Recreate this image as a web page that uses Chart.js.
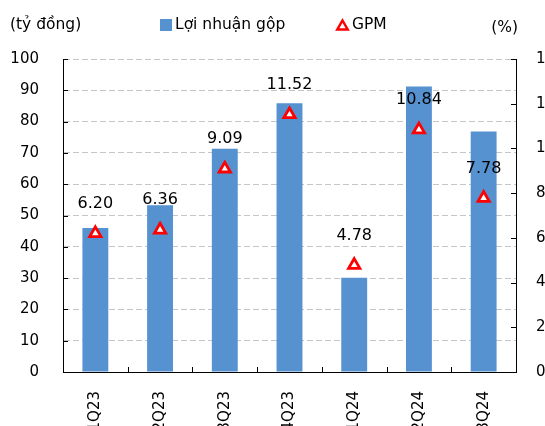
<!DOCTYPE html>
<html>
<head>
<meta charset="utf-8">
<script src="https://cdn.jsdelivr.net/npm/chart.js@4"></script>
<style>
html, body { margin: 0; padding: 0; background: #fff; }
</style>
</head>
<body>
<canvas id="chartGPM" width="545" height="426"></canvas>
<script>
// data
const quarters = ['1Q23', '2Q23', '3Q23', '4Q23', '1Q24', '2Q24', '3Q24'];
const grossProfit = [46.0, 53.3, 71.3, 85.9, 30.1, 91.2, 76.8];   // tỷ đồng
const gpm = [6.20, 6.36, 9.09, 11.52, 4.78, 10.84, 7.78];          // %
const leftAxis = { min: 0, max: 100, step: 10 };
const rightAxis = { min: 0, max: 14, step: 2 };

const FONT = '"DejaVu Sans", Verdana, sans-serif';
const BLUE = '#5691d0';
const RED = '#ff0000';

Chart.defaults.font.family = FONT;
Chart.defaults.font.size = 15;
Chart.defaults.color = '#000';

function triangle(ctx, cx, cy, r, lw) {
    ctx.save();
    ctx.beginPath();
    ctx.moveTo(cx, cy - r);
    ctx.lineTo(cx + r * 0.866, cy + r / 2);
    ctx.lineTo(cx - r * 0.866, cy + r / 2);
    ctx.closePath();
    ctx.fillStyle = '#fff';
    ctx.fill();
    ctx.lineWidth = lw;
    ctx.strokeStyle = RED;
    ctx.stroke();
    ctx.restore();
}

const extras = {
    id: 'extras',
    afterDatasetsDraw(chart) {
        const ctx = chart.ctx;
        const meta = chart.getDatasetMeta(0);
        ctx.save();
        ctx.font = '16px ' + FONT;
        ctx.fillStyle = '#000';
        ctx.textAlign = 'center';
        ctx.textBaseline = 'middle';
        meta.data.forEach((pt, i) => {
            ctx.fillText(gpm[i].toFixed(2), pt.x, pt.y - 29.5);
        });
        ctx.restore();
    },
    afterDraw(chart) {
        const ctx = chart.ctx;
        const { x, y, y1 } = chart.scales;
        ctx.save();
        ctx.strokeStyle = '#000';
        ctx.lineWidth = 1;
        ctx.beginPath();
        // inward tick marks
        y.ticks.forEach(t => {
            const py = Math.round(y.getPixelForValue(t.value)) + 0.5;
            ctx.moveTo(y.right, py);
            ctx.lineTo(y.right + 5, py);
        });
        y1.ticks.forEach(t => {
            const py = Math.round(y1.getPixelForValue(t.value)) + 0.5;
            ctx.moveTo(y1.left, py);
            ctx.lineTo(y1.left - 5, py);
        });
        for (let i = 1; i < quarters.length; i++) {
            const px = Math.round(x.getPixelForValue(i - 0.5)) + 0.5;
            ctx.moveTo(px, x.top);
            ctx.lineTo(px, x.top - 5);
        }
        ctx.stroke();

        // unit captions
        ctx.font = '15.5px ' + FONT;
        ctx.fillStyle = '#000';
        ctx.textBaseline = 'middle';
        ctx.textAlign = 'left';
        ctx.fillText('(tỷ đồng)', 10, 25);
        ctx.textAlign = 'right';
        ctx.fillText('(%)', 518, 28);

        // legend
        ctx.textAlign = 'left';
        ctx.fillStyle = BLUE;
        ctx.fillRect(160, 19, 12, 12);
        ctx.fillStyle = '#000';
        ctx.fillText('Lợi nhuận gộp', 175, 25);
        triangle(ctx, 342.5, 26.5, 6, 2.5);
        ctx.fillStyle = '#000';
        ctx.fillText('GPM', 352, 25);
        ctx.restore();
    }
};

new Chart(document.getElementById('chartGPM'), {
    data: {
        labels: quarters,
        datasets: [{
            type: 'line',
            label: 'GPM',
            data: gpm,
            yAxisID: 'y1',
            showLine: false,
            pointStyle: 'triangle',
            pointRadius: 6.5,
            pointHoverRadius: 6.5,
            pointBorderWidth: 2.8,
            pointBorderColor: RED,
            pointBackgroundColor: '#fff',
            order: 0
        }, {
            type: 'bar',
            label: 'Lợi nhuận gộp',
            data: grossProfit,
            yAxisID: 'y',
            backgroundColor: BLUE,
            barPercentage: 0.4,
            categoryPercentage: 1,
            order: 1
        }]
    },
    options: {
        responsive: false,
        animation: false,
        layout: { padding: { top: 59, left: 0, right: 0, bottom: 0 } },
        plugins: {
            legend: { display: false },
            tooltip: { enabled: false }
        },
        scales: {
            x: {
                offset: true,
                grid: { display: false },
                border: { display: true, color: '#000', width: 1 },
                ticks: { minRotation: 90, maxRotation: 90, padding: 11, font: { size: 15 } },
                afterFit(s) { s.height = 54; }
            },
            y: {
                position: 'left',
                min: leftAxis.min,
                max: leftAxis.max,
                ticks: { stepSize: leftAxis.step, padding: 24 },
                grid: {
                    drawTicks: false,
                    color: c => (c.tick && c.tick.value === 0) ? 'rgba(0,0,0,0)' : '#c6c6c6',
                    lineWidth: 1
                },
                border: { display: true, color: '#000', width: 1, dash: [6, 3] },
                afterFit(s) { s.width = 63; }
            },
            y1: {
                position: 'right',
                min: rightAxis.min,
                max: rightAxis.max,
                ticks: { stepSize: rightAxis.step, padding: 20 },
                grid: { display: false, drawTicks: false, drawOnChartArea: false },
                border: { display: true, color: '#000', width: 1 },
                afterFit(s) { s.width = 29; }
            }
        }
    },
    plugins: [extras]
});
</script>
</body>
</html>
